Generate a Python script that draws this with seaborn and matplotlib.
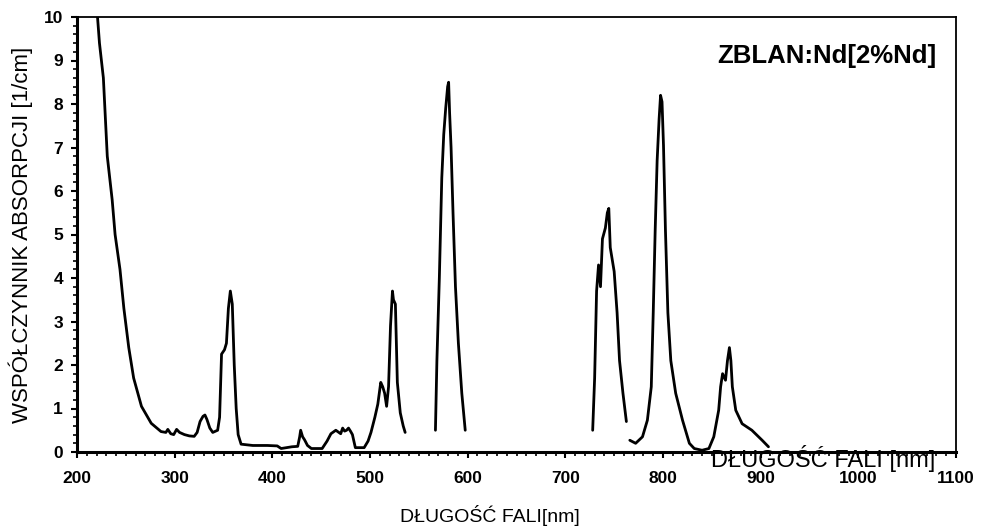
import numpy as np
import pandas as pd
import matplotlib
matplotlib.use("Agg")
import matplotlib.pyplot as plt
import seaborn as sns
from matplotlib.ticker import MultipleLocator

# ---- data ----
seg1_x = [219, 221, 223, 227, 231, 236, 239, 244, 248, 253, 258, 266, 276, 286, 291, 293, 296, 299, 302, 305,
          310, 315, 320, 323, 326, 329, 331, 333, 336, 339, 344, 346, 348, 351, 353, 355, 357, 359, 361, 363,
          365, 368, 380, 395, 405, 409, 420, 426, 428, 429, 431, 433, 436, 440, 451, 456, 460, 465, 470, 472,
          474, 476, 478, 480, 482, 485, 494, 498, 501, 505, 508, 511, 513, 515, 517, 519, 521, 523, 524, 526,
          528, 531, 534, 536]
seg1_y = [10.5, 10.0, 9.4, 8.6, 6.8, 5.8, 5.0, 4.2, 3.3, 2.4, 1.7, 1.05, 0.66, 0.47, 0.45, 0.52, 0.42, 0.40, 0.52, 0.45,
          0.40, 0.37, 0.36, 0.45, 0.70, 0.82, 0.85, 0.75, 0.55, 0.45, 0.50, 0.8, 2.25, 2.35, 2.5, 3.3, 3.7, 3.4, 2.0, 1.0,
          0.4, 0.18, 0.15, 0.15, 0.14, 0.08, 0.12, 0.13, 0.35, 0.5, 0.35, 0.28, 0.15, 0.08, 0.08, 0.25, 0.42, 0.5, 0.42, 0.55,
          0.48, 0.5, 0.55, 0.48, 0.4, 0.1, 0.1, 0.25, 0.45, 0.8, 1.1, 1.6, 1.5, 1.35, 1.05, 1.5, 2.9, 3.7, 3.5, 3.4,
          1.6, 0.9, 0.6, 0.45]

seg2_x = [567, 568.5, 571, 573.5, 575.5, 577.5, 579.5, 580.5, 581.5, 583, 585, 587.5, 590.5, 594, 597.5]
seg2_y = [0.5, 2.1, 4.0, 6.3, 7.3, 7.9, 8.4, 8.5, 7.8, 7.0, 5.5, 3.8, 2.5, 1.35, 0.5]

seg3_x = [728, 730, 732, 734, 736, 738, 741, 743, 744.5, 746, 750, 753, 755.5, 759, 762.5]
seg3_y = [0.5, 1.7, 3.7, 4.3, 3.8, 4.9, 5.15, 5.5, 5.6, 4.7, 4.15, 3.2, 2.1, 1.35, 0.7]

seg4_x = [766, 772, 779, 784, 788, 790, 792, 794, 796, 797.5, 799, 800.5, 802.5, 805, 808, 813, 820, 827, 832,
          840, 847, 852, 857, 859, 861, 864, 866, 868, 869.5, 871, 874.5, 881, 891, 901.5, 908]
seg4_y = [0.27, 0.2, 0.35, 0.73, 1.5, 3.2, 5.1, 6.7, 7.65, 8.2, 8.05, 7.05, 5.1, 3.2, 2.1, 1.35, 0.73, 0.2, 0.08,
          0.04, 0.08, 0.35, 0.96, 1.5, 1.8, 1.65, 2.1, 2.4, 2.1, 1.5, 0.96, 0.65, 0.5, 0.27, 0.12]

x_ticks = [200, 300, 400, 500, 600, 700, 800, 900, 1000, 1100]
y_ticks = [0, 1, 2, 3, 4, 5, 6, 7, 8, 9, 10]

x_label = "DŁUGOŚĆ FALI[nm]"
x_label2 = "DŁUGOŚĆ FALI [nm]"
y_label = "WSPÓŁCZYNNIK ABSORPCJI [1/cm]"
note = "ZBLAN:Nd[2%Nd]"

segments = [(seg1_x, seg1_y), (seg2_x, seg2_y), (seg3_x, seg3_y), (seg4_x, seg4_y)]
df = pd.concat([pd.DataFrame({"wl": sx, "abs": sy, "seg": i}) for i, (sx, sy) in enumerate(segments)],
               ignore_index=True)

sns.set_theme(style="white")
plt.rcParams["font.family"] = ["Liberation Sans", "DejaVu Sans"]
plt.rcParams["text.color"] = "black"
plt.rcParams["axes.labelcolor"] = "black"

W, H = 988, 528
fig = plt.figure(figsize=(W / 100, H / 100), dpi=100)
ax = fig.add_axes([77 / W, 1 - 452 / H, (956 - 77) / W, (452 - 17) / H])

sns.lineplot(data=df, x="wl", y="abs", units="seg", estimator=None, sort=False,
             color="black", linewidth=2.0, ax=ax, legend=False)

ax.set_xlim(200, 1100)
ax.set_ylim(0, 10)
ax.set_xticks(x_ticks)
ax.set_yticks(y_ticks)
ax.xaxis.set_minor_locator(MultipleLocator(10))
ax.yaxis.set_minor_locator(MultipleLocator(0.2))
ax.tick_params(axis="both", which="major", direction="out", length=4, width=1.5,
               colors="black", labelsize=12.5, bottom=True, left=True)
ax.tick_params(axis="both", which="minor", direction="out", length=3, width=1.2,
               colors="black", bottom=True, left=True)
for lab in ax.get_xticklabels() + ax.get_yticklabels():
    lab.set_fontweight("bold")
ax.tick_params(axis="x", pad=10)
ax.tick_params(axis="y", pad=6)

for side in ["left", "bottom"]:
    ax.spines[side].set_linewidth(2.2)
    ax.spines[side].set_color("black")
for side in ["top", "right"]:
    ax.spines[side].set_linewidth(1.3)
    ax.spines[side].set_color("black")

ax.set_xlabel("")
ax.set_ylabel(y_label, fontsize=16, labelpad=8, color="black")
fig.text(490 / W, 1 - 515 / H, x_label, ha="center", va="center", fontsize=14, color="black")

ax.text(0.978, 0.91, note, transform=ax.transAxes, ha="right", va="center",
        fontsize=18.5, fontweight="bold", color="black")
fig.text(935 / W, 1 - 459 / H, x_label2, ha="right", va="center",
         fontsize=17, color="black")

fig.savefig("out.png", dpi=100, facecolor="white")
